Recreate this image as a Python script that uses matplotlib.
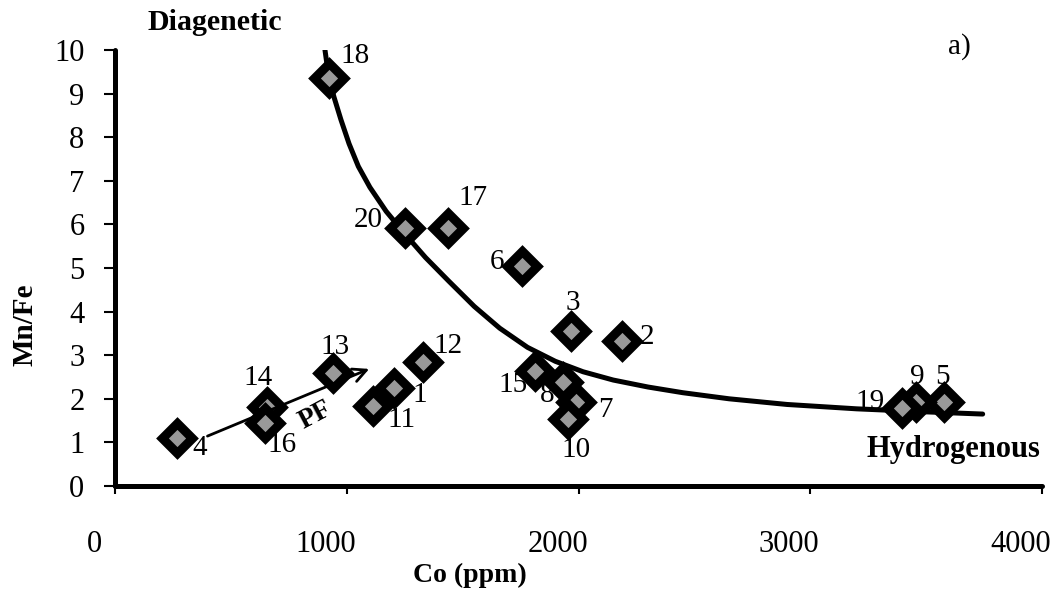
import matplotlib
matplotlib.use("Agg")
import matplotlib.pyplot as plt
from matplotlib.transforms import ScaledTranslation

plt.rcParams.update({
    "font.family": ["Liberation Serif", "DejaVu Serif"],
    "font.size": 21,
})

# sample data: Co (ppm) vs Mn/Fe
sample_ids = [str(i) for i in range(1, 21)]
co_ppm = [1204, 2187, 1967, 267, 3576, 1756, 1989, 1933, 3456, 1954,
          1113, 1329, 940, 656, 1812, 647, 1437, 923, 3395, 1251]
mn_fe = [2.25, 3.33, 3.56, 1.10, 1.93, 5.05, 1.93, 2.39, 1.93, 1.54,
         1.83, 2.84, 2.59, 1.81, 2.64, 1.44, 5.92, 9.35, 1.79, 5.92]

# trend curve
curve_co = [906, 923, 945, 975, 1010, 1050, 1100, 1170, 1251, 1340, 1440,
            1550, 1660, 1780, 1900, 2020, 2150, 2300, 2450, 2650, 2900,
            3200, 3500, 3744]
curve_mnfe = [10.0, 9.36, 8.92, 8.4, 7.85, 7.33, 6.85, 6.3, 5.78, 5.24,
              4.7, 4.12, 3.62, 3.18, 2.86, 2.62, 2.43, 2.27, 2.14, 2.0,
              1.87, 1.77, 1.70, 1.65]

# PF arrow (Co, Mn/Fe)
pf_start = (388, 1.12)
pf_end = (1108, 2.71)

x_ticks = [0, 1000, 2000, 3000, 4000]
y_ticks = list(range(0, 11))

# label offsets in pixels (dx, dy) per sample
label_offsets = {
    "1": (26, -7), "2": (25, 4), "3": (2, 28), "4": (23, -10),
    "5": (-1, 25), "6": (-25, 4), "7": (29, -8), "8": (-16, -13),
    "9": (1, 25), "10": (8, -31), "11": (29, -14), "12": (25, 16),
    "13": (2, 26), "14": (-9, 29), "15": (-22, -14), "16": (17, -22),
    "17": (25, 30), "18": (26, 22), "19": (-32, 6), "20": (-37, 8),
}

W, H = 1060, 594
fig = plt.figure(figsize=(W / 100, H / 100), dpi=100)
ax = fig.add_axes([115 / W, 1 - 486 / H, 927 / W, 436 / H])

ax.plot(curve_co, curve_mnfe, color="black", lw=3.6,
        solid_capstyle="round", solid_joinstyle="round", zorder=2)

ax.plot(co_ppm, mn_fe, ls="none", marker="D", ms=15, mfc="#999999",
        mec="black", mew=6.5, zorder=3)

for sid, x, y in zip(sample_ids, co_ppm, mn_fe):
    dx, dy = label_offsets[sid]
    ax.annotate(sid, (x, y), xytext=(dx, dy), textcoords="offset pixels",
                ha="center", va="center", fontsize=21, zorder=4)

ax.annotate("", xy=pf_end, xytext=pf_start,
            arrowprops=dict(arrowstyle="->", lw=2, color="black",
                            mutation_scale=24))
ax.text(0.216, 0.163, "PF", transform=ax.transAxes, rotation=28,
        ha="center", va="center", fontsize=20, fontweight="bold")

ax.set_xlim(0, 4000)
ax.set_ylim(0, 10)
ax.set_xticks(x_ticks)
ax.set_yticks(y_ticks)

for side in ["top", "right"]:
    ax.spines[side].set_visible(False)
for side in ["left", "bottom"]:
    ax.spines[side].set_linewidth(3.6)
    ax.spines[side].set_capstyle("round")

ax.tick_params(axis="y", direction="out", length=8, width=1.5, pad=14,
               labelsize=22)
ax.tick_params(axis="x", direction="out", length=6, width=1.5, pad=26,
               labelsize=22)
shift = ScaledTranslation(-21 / 100, 0, fig.dpi_scale_trans)
for lab in ax.get_xticklabels():
    lab.set_transform(lab.get_transform() + shift)

ax.set_ylabel("Mn/Fe", fontsize=21, fontweight="bold")
ax.yaxis.set_label_coords(-0.083, 0.37)
ax.set_xlabel("Co (ppm)", fontsize=20, fontweight="bold")
ax.xaxis.set_label_coords(0.383, -0.177)

fig.text(215 / W, 1 - 22 / H, "Diagenetic", ha="center", va="center",
         fontsize=21.5, fontweight="bold")
fig.text(1040 / W, 1 - 450 / H, "Hydrogenous", ha="right", va="center",
         fontsize=22, fontweight="bold")
fig.text(959 / W, 1 - 47 / H, "a)", ha="center", va="center", fontsize=21)

fig.savefig("out.png", dpi=100)
